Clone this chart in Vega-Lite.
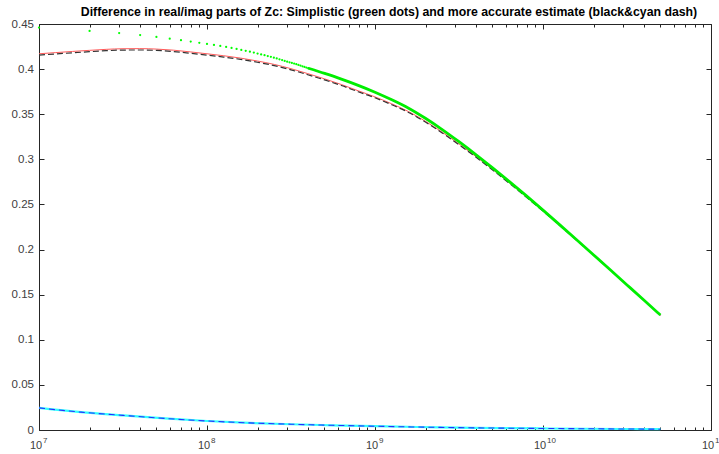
{
  "$schema": "https://vega.github.io/schema/vega-lite/v6.json",
  "width": 672,
  "height": 406,
  "autosize": {"type": "none"},
  "padding": {"left": 39, "top": 24, "right": 8, "bottom": 24},
  "background": "white",
  "config": {"view": {"stroke": null}, "font": "Liberation Sans"},
  "title": {"text": "Difference in real/imag parts of Zc: Simplistic (green dots) and more accurate estimate (black&cyan dash)", "font": "Liberation Sans", "fontSize": 12.3, "fontWeight": "bold", "color": "#000000", "anchor": "middle", "offset": 0, "dx": 14},
  "datasets": {
    "red": [
      {"f": 1e7, "v": 0.4170}, {"f": 1.259e7, "v": 0.4183}, {"f": 1.585e7, "v": 0.4196}, {"f": 1.995e7, "v": 0.4208}, {"f": 2.512e7, "v": 0.4219}, {"f": 3.162e7, "v": 0.4226}, {"f": 3.981e7, "v": 0.4227}, {"f": 5.012e7, "v": 0.4222}, {"f": 6.31e7, "v": 0.4210}, {"f": 7.943e7, "v": 0.4191},
      {"f": 1e8, "v": 0.4170}, {"f": 1.259e8, "v": 0.4148}, {"f": 1.585e8, "v": 0.4122}, {"f": 1.995e8, "v": 0.4090}, {"f": 2.512e8, "v": 0.4052}, {"f": 3.162e8, "v": 0.4005}, {"f": 3.981e8, "v": 0.3950}, {"f": 5.012e8, "v": 0.3892}, {"f": 6.31e8, "v": 0.3829}, {"f": 7.943e8, "v": 0.3760},
      {"f": 1e9, "v": 0.3692}, {"f": 1.259e9, "v": 0.3615}, {"f": 1.585e9, "v": 0.3529}, {"f": 1.995e9, "v": 0.3422}, {"f": 2.512e9, "v": 0.3301}, {"f": 3.162e9, "v": 0.3170}, {"f": 3.981e9, "v": 0.3032}, {"f": 5.012e9, "v": 0.2888}, {"f": 6.31e9, "v": 0.2740}, {"f": 7.943e9, "v": 0.2587},
      {"f": 1e10, "v": 0.2430}, {"f": 1.259e10, "v": 0.2269}, {"f": 1.585e10, "v": 0.2106}, {"f": 1.995e10, "v": 0.1941}, {"f": 2.512e10, "v": 0.1775}, {"f": 3.162e10, "v": 0.1608}, {"f": 3.981e10, "v": 0.1440}, {"f": 5e10, "v": 0.1274}
    ],
    "black": [
      {"f": 1e7, "v": 0.4155}, {"f": 1.259e7, "v": 0.4168}, {"f": 1.585e7, "v": 0.4181}, {"f": 1.995e7, "v": 0.4193}, {"f": 2.512e7, "v": 0.4204}, {"f": 3.162e7, "v": 0.4211}, {"f": 3.981e7, "v": 0.4212}, {"f": 5.012e7, "v": 0.4207}, {"f": 6.31e7, "v": 0.4195}, {"f": 7.943e7, "v": 0.4176},
      {"f": 1e8, "v": 0.4155}, {"f": 1.259e8, "v": 0.4133}, {"f": 1.585e8, "v": 0.4108}, {"f": 1.995e8, "v": 0.4076}, {"f": 2.512e8, "v": 0.4039}, {"f": 3.162e8, "v": 0.3992}, {"f": 3.981e8, "v": 0.3938}, {"f": 5.012e8, "v": 0.3880}, {"f": 6.31e8, "v": 0.3818}, {"f": 7.943e8, "v": 0.3749},
      {"f": 1e9, "v": 0.3682}, {"f": 1.259e9, "v": 0.3605}, {"f": 1.585e9, "v": 0.3520}, {"f": 1.995e9, "v": 0.3413}, {"f": 2.512e9, "v": 0.3293}, {"f": 3.162e9, "v": 0.3162}, {"f": 3.981e9, "v": 0.3025}, {"f": 5.012e9, "v": 0.2882}, {"f": 6.31e9, "v": 0.2734}, {"f": 7.943e9, "v": 0.2582},
      {"f": 1e10, "v": 0.2426}, {"f": 1.259e10, "v": 0.2266}, {"f": 1.585e10, "v": 0.2103}, {"f": 1.995e10, "v": 0.1939}, {"f": 2.512e10, "v": 0.1773}, {"f": 3.162e10, "v": 0.1606}, {"f": 3.981e10, "v": 0.1438}, {"f": 5e10, "v": 0.1272}
    ],
    "imag": [
      {"f": 1e7, "v": 0.0245}, {"f": 1.778e7, "v": 0.0198}, {"f": 3.162e7, "v": 0.0162}, {"f": 5.623e7, "v": 0.0128}, {"f": 1e8, "v": 0.0100}, {"f": 1.778e8, "v": 0.0079}, {"f": 3.162e8, "v": 0.0064}, {"f": 5.623e8, "v": 0.0052}, {"f": 1e9, "v": 0.0042}, {"f": 1.778e9, "v": 0.0033}, {"f": 3.162e9, "v": 0.0026}, {"f": 5.623e9, "v": 0.0021}, {"f": 1e10, "v": 0.0017}, {"f": 1.778e10, "v": 0.0014}, {"f": 3.162e10, "v": 0.0011}, {"f": 5e10, "v": 0.0009}
    ],
    "greenDots": [
      {"f": 1e7, "v": 0.4460}, {"f": 2e7, "v": 0.4423}, {"f": 3e7, "v": 0.4400}, {"f": 4e7, "v": 0.4378}, {"f": 5e7, "v": 0.4357}, {"f": 6e7, "v": 0.4337}, {"f": 7e7, "v": 0.4320}, {"f": 8e7, "v": 0.4305}, {"f": 9e7, "v": 0.4291}, {"f": 1e8, "v": 0.4279},
      {"f": 1.1e8, "v": 0.4268}, {"f": 1.2e8, "v": 0.4257}, {"f": 1.3e8, "v": 0.4246}, {"f": 1.4e8, "v": 0.4235}, {"f": 1.5e8, "v": 0.4224}, {"f": 1.6e8, "v": 0.4213}, {"f": 1.7e8, "v": 0.4203}, {"f": 1.8e8, "v": 0.4193}, {"f": 1.9e8, "v": 0.4183}, {"f": 2e8, "v": 0.4172},
      {"f": 2.1e8, "v": 0.4163}, {"f": 2.2e8, "v": 0.4154}, {"f": 2.3e8, "v": 0.4145}, {"f": 2.4e8, "v": 0.4136}, {"f": 2.5e8, "v": 0.4127}, {"f": 2.6e8, "v": 0.4118}, {"f": 2.7e8, "v": 0.4109}, {"f": 2.8e8, "v": 0.4100}, {"f": 2.9e8, "v": 0.4091}, {"f": 3e8, "v": 0.4082},
      {"f": 3.1e8, "v": 0.4075}, {"f": 3.2e8, "v": 0.4068}, {"f": 3.3e8, "v": 0.4061}, {"f": 3.4e8, "v": 0.4054}, {"f": 3.5e8, "v": 0.4046}, {"f": 3.6e8, "v": 0.4039}, {"f": 3.7e8, "v": 0.4031}, {"f": 3.8e8, "v": 0.4024}, {"f": 3.9e8, "v": 0.4017}, {"f": 4e8, "v": 0.4010}
    ],
    "greenLine": [
      {"f": 4e8, "v": 0.4010}, {"f": 5.012e8, "v": 0.3952}, {"f": 6.31e8, "v": 0.3889}, {"f": 7.943e8, "v": 0.3820}, {"f": 1e9, "v": 0.3744}, {"f": 1.259e9, "v": 0.3660}, {"f": 1.585e9, "v": 0.3567}, {"f": 1.995e9, "v": 0.3455}, {"f": 2.512e9, "v": 0.3330}, {"f": 3.162e9, "v": 0.3195},
      {"f": 3.981e9, "v": 0.3053}, {"f": 5.012e9, "v": 0.2905}, {"f": 6.31e9, "v": 0.2753}, {"f": 7.943e9, "v": 0.2597}, {"f": 1e10, "v": 0.2437}, {"f": 1.259e10, "v": 0.2274}, {"f": 1.585e10, "v": 0.2109}, {"f": 1.995e10, "v": 0.1943}, {"f": 2.512e10, "v": 0.1776}, {"f": 3.162e10, "v": 0.1608}, {"f": 3.981e10, "v": 0.1440}, {"f": 5e10, "v": 0.1274}
    ]
  },
  "layer": [
    {
      "data": {"name": "red"},
      "mark": {"type": "line", "color": "#ff5a5a", "strokeWidth": 1, "interpolate": "monotone"},
      "encoding": {
        "x": {"field": "f", "type": "quantitative", "scale": {"type": "log", "domain": [1e7, 1e11], "nice": false},
          "axis": {"orient": "bottom", "title": null, "grid": false,
            "values": [1e7, 1e8, 1e9, 1e10, 1e11],
            "labelExpr": "'10'",
            "tickSize": -5, "labelOffset": -3.5,
            "domainColor": "#262626", "tickColor": "#262626", "labelColor": "#404040", "labelFont": "Liberation Sans", "labelFontSize": 11, "labelFlush": false, "labelOverlap": false, "labelPadding": 14.5}},
        "y": {"field": "v", "type": "quantitative", "scale": {"domain": [0, 0.45], "nice": false, "zero": false},
          "axis": {"orient": "left", "title": null, "grid": false, "values": [0, 0.05, 0.1, 0.15, 0.2, 0.25, 0.3, 0.35, 0.4, 0.45], "format": "~g",
            "tickSize": -5, "domainColor": "#262626", "tickColor": "#262626", "labelColor": "#404040", "labelFont": "Liberation Sans", "labelFontSize": 11.5, "labelFlush": false, "labelOverlap": false, "labelPadding": 10.5}}
      }
    },
    {
      "data": {"name": "black"},
      "mark": {"type": "line", "color": "#333333", "strokeWidth": 1.2, "strokeDash": [6, 3], "interpolate": "monotone"},
      "encoding": {
        "x": {"field": "f", "type": "quantitative", "axis": {"orient": "top", "title": null, "grid": false, "labels": false,
            "values": [1e7, 2e7, 3e7, 4e7, 5e7, 6e7, 7e7, 8e7, 9e7, 1e8, 2e8, 3e8, 4e8, 5e8, 6e8, 7e8, 8e8, 9e8, 1e9, 2e9, 3e9, 4e9, 5e9, 6e9, 7e9, 8e9, 9e9, 1e10, 2e10, 3e10, 4e10, 5e10, 6e10, 7e10, 8e10, 9e10, 1e11],
            "tickSize": {"condition": {"test": "abs(log(datum.value)/LN10 - round(log(datum.value)/LN10)) < 0.001", "value": -5}, "value": -3},
            "domainColor": "#262626", "tickColor": "#262626"}},
        "y": {"field": "v", "type": "quantitative", "axis": {"orient": "right", "title": null, "grid": false, "labels": false,
            "values": [0, 0.05, 0.1, 0.15, 0.2, 0.25, 0.3, 0.35, 0.4, 0.45], "tickSize": -5, "domainColor": "#262626", "tickColor": "#262626"}}
      }
    },
    {
      "data": {"name": "imag"},
      "mark": {"type": "line", "color": "#33ffff", "strokeWidth": 2.2, "interpolate": "monotone"},
      "encoding": {
        "x": {"field": "f", "type": "quantitative", "axis": {"orient": "bottom", "title": null, "grid": false, "domain": false,
            "values": [1e7, 2e7, 3e7, 4e7, 5e7, 6e7, 7e7, 8e7, 9e7, 1e8, 2e8, 3e8, 4e8, 5e8, 6e8, 7e8, 8e8, 9e8, 1e9, 2e9, 3e9, 4e9, 5e9, 6e9, 7e9, 8e9, 9e9, 1e10, 2e10, 3e10, 4e10, 5e10, 6e10, 7e10, 8e10, 9e10, 1e11],
            "labelExpr": "abs(log(datum.value)/LN10 - round(log(datum.value)/LN10)) < 0.001 ? toString(round(log(datum.value)/LN10)) : ''",
            "tickSize": -3, "tickColor": "#262626", "labelColor": "#404040", "labelFont": "Liberation Sans", "labelFontSize": 8, "labelAlign": "left", "labelOffset": 3.5, "labelFlush": false, "labelOverlap": false, "labelPadding": 9.4}},
        "y": {"field": "v", "type": "quantitative", "axis": null}
      }
    },
    {
      "data": {"name": "imag"},
      "mark": {"type": "line", "color": "#2a2aff", "strokeWidth": 1.1, "strokeDash": [6, 4], "interpolate": "monotone"},
      "encoding": {
        "x": {"field": "f", "type": "quantitative", "axis": null},
        "y": {"field": "v", "type": "quantitative", "axis": null}
      }
    },
    {
      "data": {"name": "greenDots"},
      "mark": {"type": "circle", "color": "#00ff00", "size": 5, "opacity": 1},
      "encoding": {
        "x": {"field": "f", "type": "quantitative", "axis": null},
        "y": {"field": "v", "type": "quantitative", "axis": null}
      }
    },
    {
      "data": {"name": "greenLine"},
      "mark": {"type": "line", "color": "#00ee00", "strokeWidth": 2.8, "interpolate": "monotone"},
      "encoding": {
        "x": {"field": "f", "type": "quantitative", "axis": null},
        "y": {"field": "v", "type": "quantitative", "axis": null}
      }
    }
  ],
  "resolve": {"axis": {"x": "independent", "y": "independent"}}
}
